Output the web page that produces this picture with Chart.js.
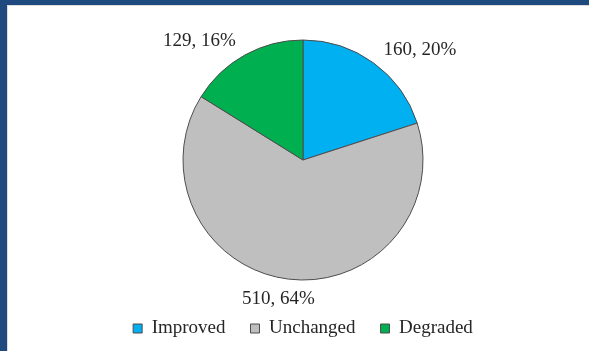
<!DOCTYPE html>
<html>
<head>
<meta charset="utf-8">
<script src="https://cdn.jsdelivr.net/npm/chart.js@4/dist/chart.umd.min.js"></script>
<style>
  body { margin: 0; background: #fff; }
  #frame {
    position: absolute; left: 0; top: 0;
    width: 589px; height: 351px;
    box-sizing: border-box;
    border-left: 7px solid #1f4a80;
    border-top: 5px solid #1f4a80;
    background: #fff;
  }
  #inner {
    position: absolute; left: 0; top: 0; right: 0; bottom: 0;
    border-left: 1px solid #dcdcdc;
    border-top: 1px solid #dcdcdc;
  }
  canvas { position: absolute; left: 0; top: 0; }
</style>
</head>
<body>
<div id="frame"><div id="inner"></div><canvas id="pie-chart" width="582" height="346"></canvas></div>
<script>
// dati del grafico
var categorie = ['Improved', 'Unchanged', 'Degraded'];
var valori = [160, 510, 129];
var colori = ['#00b0f0', '#bfbfbf', '#00b050'];

var totale = valori.reduce(function (a, b) { return a + b; }, 0);
var fontSerif = '"Liberation Serif", "Times New Roman", serif';

// etichette "valore, percentuale" fuori dalla torta
var etichettePlugin = {
    id: 'etichette',
    afterDatasetsDraw: function (chart) {
        var ctx = chart.ctx;
        var meta = chart.getDatasetMeta(0);
        ctx.save();
        ctx.font = '19px ' + fontSerif;
        ctx.fillStyle = '#262626';
        meta.data.forEach(function (arc, i) {
            var p = arc.getProps(['x', 'y', 'startAngle', 'endAngle', 'outerRadius'], true);
            var mid = (p.startAngle + p.endAngle) / 2;
            var r = p.outerRadius + 10;
            var cos = Math.cos(mid), sin = Math.sin(mid);
            var x = p.x + r * cos;
            var y = p.y + r * sin;
            var testo = valori[i] + ', ' + Math.round(valori[i] / totale * 100) + '%';
            var w = ctx.measureText(testo).width;
            if (cos > 0.3) { ctx.textAlign = 'left'; x += 4; }
            else if (cos < -0.3) { ctx.textAlign = 'right'; x -= 4; }
            else { ctx.textAlign = 'center'; x += cos * w; }
            ctx.textBaseline = sin < 0 ? 'alphabetic' : 'top';
            ctx.fillText(testo, x, y);
        });
        ctx.restore();
    }
};

var ctx = document.getElementById('pie-chart');
var chart = new Chart(ctx, {
    type: 'pie',
    data: {
        labels: categorie,
        datasets: [{
            data: valori,
            backgroundColor: colori,
            borderColor: '#4d4d4d',
            borderWidth: 1
        }]
    },
    options: {
        responsive: false,
        animation: false,
        radius: 120,
        layout: { padding: { top: 21, bottom: 3, left: 20, right: 10 } },
        plugins: {
            tooltip: { enabled: false },
            legend: {
                position: 'bottom',
                labels: {
                    boxWidth: 9,
                    boxHeight: 9,
                    padding: 25,
                    color: '#262626',
                    font: { family: fontSerif, size: 19 }
                }
            }
        }
    },
    plugins: [etichettePlugin]
});
</script>
</body>
</html>
